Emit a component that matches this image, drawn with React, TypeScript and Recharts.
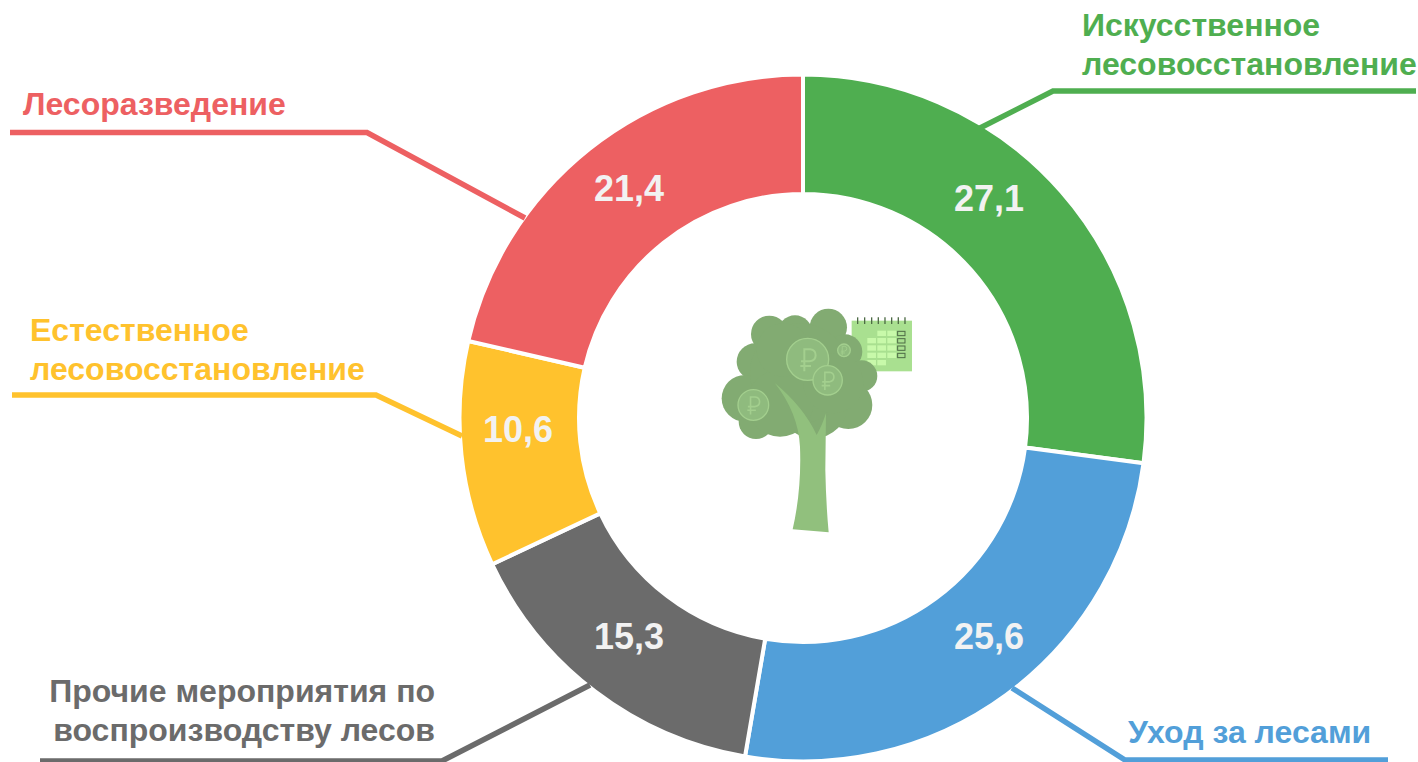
import React from 'react';
import { PieChart, Pie, Cell } from 'recharts';

const names = [
  'Искусственное лесовосстановление',
  'Уход за лесами',
  'Прочие мероприятия по воспроизводству лесов',
  'Естественное лесовосстановление',
  'Лесоразведение',
];
const values = [27.1, 25.6, 15.3, 10.6, 21.4];
const colors = ['#4fae50', '#529fd9', '#6b6b6b', '#ffc22d', '#ed6062'];

const data = names.map((name, i) => ({ name, value: values[i] }));

const FONT = '"Liberation Sans", Arial, sans-serif';

// where each value sits, measured from the centre of the ring
const valueOffsets = [
  [186, -220],
  [186, 218],
  [-174, 218],
  [-285, 11],
  [-174, -230],
];

// leader lines and caption placement, one per slice
const callouts = [
  { line: '980,128 1053,91 1416,91', x: 1082, y: 36, anchor: 'start', lines: ['Искусственное', 'лесовосстановление'] },
  { line: '1012,688 1125,760 1388,760', x: 1128, y: 743, anchor: 'start', lines: ['Уход за лесами'] },
  { line: '590,685 442,761 40,761', x: 435, y: 702, anchor: 'end', lines: ['Прочие мероприятия по', 'воспроизводству лесов'] },
  { line: '462,436 376,395 12,395', x: 30, y: 341, anchor: 'start', lines: ['Естественное', 'лесовосстановление'] },
  { line: '525,218 367,132.5 10,132.5', x: 23, y: 115, anchor: 'start', lines: ['Лесоразведение'] },
];

function SliceLabel(props: any) {
  const { cx, cy, index, value } = props;
  const c = callouts[index];
  const off = valueOffsets[index];
  return (
    <g>
      <polyline points={c.line} fill="none" stroke={colors[index]} strokeWidth={5.5} />
      {c.lines.map((t, i) => (
        <text
          key={t}
          x={c.x}
          y={c.y + i * 39}
          textAnchor={c.anchor as any}
          fontFamily={FONT}
          fontWeight="bold"
          fontSize={32}
          fill={colors[index]}
        >
          {t}
        </text>
      ))}
      <text
        x={cx + off[0]}
        y={cy + off[1]}
        textAnchor="middle"
        dominantBaseline="central"
        fontFamily={FONT}
        fontWeight="bold"
        fontSize={36}
        fill="#f2f2f2"
      >
        {value.toFixed(1).replace('.', ',')}
      </text>
    </g>
  );
}

// [x, y, r] in the icon's own coordinates
const lobes = [
  [208, 132, 55], [285, 128, 52], [385, 112, 56], [435, 185, 52], [485, 258, 47],
  [445, 345, 72], [340, 340, 105], [165, 215, 55], [135, 325, 70], [168, 395, 52],
  [300, 250, 150], [240, 340, 100], [250, 180, 80], [400, 280, 90],
];
const coins = [
  [323, 208, 63, 1], [383, 271, 44, 0.8], [160, 345, 46, 0.8], [432, 181, 19, 0.4],
];
const calCells = [
  [545, 130], [575, 130],
  [515, 152], [545, 152], [575, 152],
  [515, 174], [545, 174], [575, 174],
  [515, 196], [545, 196], [575, 196],
  [515, 218], [545, 218],
];
const calBoxes = [130, 152, 174, 196];
const rings = [473, 494, 515, 535, 555, 575, 595, 615];

function Ruble({ x, y, s }: { x: number; y: number; s: number }) {
  return (
    <path
      transform={`translate(${x} ${y}) scale(${s})`}
      d="M-8 36 L-8 -30 L10 -30 Q26 -28 26 -12 Q26 4 8 6 L-18 6 M-20 20 L12 20"
      fill="none"
      stroke="#a3cf8e"
      strokeWidth={6}
    />
  );
}

function TreeIcon() {
  return (
    <svg width={1418} height={762} style={{ position: 'absolute', left: 0, top: 0, pointerEvents: 'none' }}>
      <g transform="translate(700 290) scale(0.3333)">
        <rect x={455} y={92} width={181} height={152} fill="#a9e090" />
        {rings.map((x) => (
          <line key={x} x1={x} x2={x} y1={82} y2={102} stroke="#4d6b45" strokeWidth={4} />
        ))}
        {calCells.map(([x, y]) => (
          <rect key={`${x}-${y}`} x={x - 13} y={y - 8} width={26} height={16} fill="#c8f9aa" />
        ))}
        {calBoxes.map((y) => (
          <rect key={y} x={593} y={y - 6} width={22} height={13} fill="none" stroke="#4d6b45" strokeWidth={3} />
        ))}
        {lobes.map(([x, y, r]) => (
          <circle key={`${x}-${y}`} cx={x} cy={y} r={r} fill="#82ab72" />
        ))}
        <path
          d="M225 280 Q310 350 350 435 Q365 410 378 370 L376 540 Q378 640 386 727 L278 718 Q305 600 300 470 Q295 370 225 280 Z"
          fill="#91c07d"
        />
        {coins.map(([x, y, r, s]) => (
          <g key={x}>
            <circle cx={x} cy={y} r={r} fill="#8fbb7e" stroke="#a3cf8e" strokeWidth={4} />
            <Ruble x={x - 2} y={y} s={s} />
          </g>
        ))}
      </g>
    </svg>
  );
}

export default function App() {
  return (
    <div style={{ position: 'absolute', left: 0, top: 0, width: 1418, height: 762, background: '#fff' }}>
      <PieChart width={1418} height={762} margin={{ top: 0, right: 0, bottom: 0, left: 0 }}>
        <Pie
          data={data}
          dataKey="value"
          nameKey="name"
          cx={803}
          cy={418}
          outerRadius={343.5}
          innerRadius={224}
          startAngle={90}
          endAngle={-270}
          stroke="#ffffff"
          strokeWidth={4}
          label={SliceLabel}
          labelLine={false}
          isAnimationActive={false}
        >
          {data.map((d, i) => (
            <Cell key={d.name} fill={colors[i]} />
          ))}
        </Pie>
      </PieChart>
      <TreeIcon />
    </div>
  );
}
